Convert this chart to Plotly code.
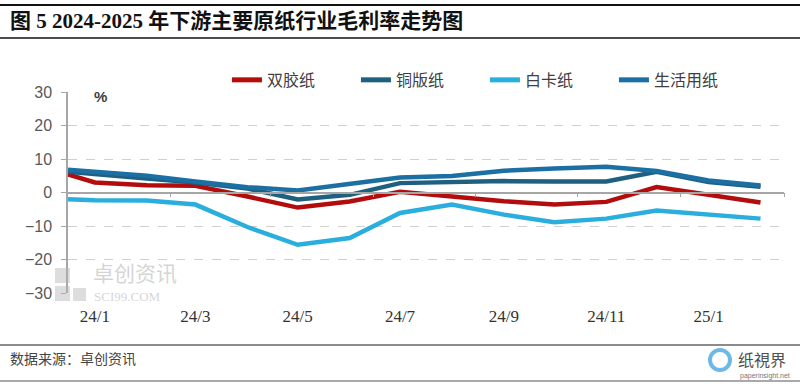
import plotly.graph_objects as go

dates = ["2023-12-16", "2024-01-01", "2024-02-01", "2024-03-01", "2024-04-01", "2024-05-01",
         "2024-06-01", "2024-07-01", "2024-08-01", "2024-09-01", "2024-10-01", "2024-11-01",
         "2024-12-01", "2025-01-01", "2025-02-01"]
shuangjiao = [5.4, 3.0, 2.2, 2.0, -1.2, -4.5, -2.7, 0.2, -1.2, -2.6, -3.6, -2.8, 1.6, -0.7, -3.0]
tongban = [6.2, 5.6, 4.2, 3.0, 1.2, -2.1, -0.7, 2.8, 3.1, 3.4, 3.3, 3.3, 6.2, 3.1, 1.7]
baika = [-2.0, -2.3, -2.4, -3.6, -10.3, -15.6, -13.6, -6.1, -3.6, -6.6, -8.9, -7.8, -5.4, -6.6, -7.8]
shenghuo = [6.8, 6.3, 5.0, 3.3, 1.6, 0.6, 2.6, 4.5, 4.9, 6.5, 7.2, 7.7, 6.4, 3.6, 2.1]

series_names = ["双胶纸", "铜版纸", "白卡纸", "生活用纸"]
series_values = [shuangjiao, tongban, baika, shenghuo]
series_colors = ["#B20C0C", "#1F5F80", "#2AAEDD", "#1B6FA3"]

tick_dates = ["2024-01-01", "2024-03-01", "2024-05-01", "2024-07-01", "2024-09-01", "2024-11-01", "2025-01-01"]
tick_labels = ["24/1", "24/3", "24/5", "24/7", "24/9", "24/11", "25/1"]
minor_ticks = ["2024-02-15", "2024-04-15", "2024-06-15", "2024-08-15", "2024-10-15", "2024-12-15", "2025-02-15"]
y_ticks = [-30, -20, -10, 0, 10, 20, 30]
x_range = ["2023-12-16", "2025-02-15"]

fig = go.Figure()
for name, vals, col in zip(series_names, series_values, series_colors):
    fig.add_trace(go.Scatter(x=dates, y=vals, name=name, mode="lines",
                             line=dict(color=col, width=4.5, shape="linear"),
                             hoverinfo="skip"))

fig.update_layout(
    width=800, height=386,
    margin=dict(l=68, r=16, t=92, b=93, autoexpand=False),
    paper_bgcolor="white", plot_bgcolor="white",
    showlegend=True,
    legend=dict(orientation="h", x=0.222, xanchor="left", y=1.06, yanchor="middle",
                font=dict(family="Noto Sans CJK SC", size=16, color="#404040"),
                entrywidth=84, entrywidthmode="pixels", traceorder="normal",
                bgcolor="rgba(0,0,0,0)", itemsizing="constant"),
    xaxis=dict(type="date", range=x_range, tickvals=tick_dates, ticktext=tick_labels,
               showgrid=False, zeroline=False, showline=False, ticks="",
               tickfont=dict(family="Liberation Serif", size=17, color="#333333"),
               ticklabelstandoff=11),
    xaxis2=dict(type="date", range=x_range, overlaying="x", anchor="free", position=0.5,
                showgrid=False, zeroline=False, showline=True, linecolor="#A6A6A6", linewidth=1.5,
                ticks="outside", ticklen=4, tickcolor="#A6A6A6", tickwidth=1,
                tickvals=minor_ticks, showticklabels=False),
    yaxis=dict(range=[-30, 30], tickvals=y_ticks, ticktext=[str(v).replace("-", "−") for v in y_ticks],
               showgrid=True, gridcolor="#D0D0D0", griddash="dash", gridwidth=1,
               zeroline=False, showline=True, linecolor="#A6A6A6", linewidth=1.5,
               ticks="outside", ticklen=5, tickcolor="#A6A6A6",
               tickfont=dict(family="Liberation Sans", size=16, color="#595959"),
               ticklabelstandoff=6),
)

# invisible anchor trace so the zero-position axis is drawn
fig.add_trace(go.Scatter(x=[dates[0]], y=[None], xaxis="x2", yaxis="y", showlegend=False,
                         hoverinfo="skip", mode="lines"))

annotations = [
    dict(text="<b>图 5 2024-2025 年下游主要原纸行业毛利率走势图</b>", xref="paper", yref="paper",
         x=(8 - 68)/716, y=1 + (92 - 21)/201, xanchor="left", yanchor="middle", showarrow=False,
         font=dict(family="Liberation Serif, Noto Sans CJK SC", size=21, color="#111111")),
    dict(text="<b>%</b>", xref="paper", yref="paper", x=(100 - 68)/716, y=1 - (96 - 92)/201,
         xanchor="center", yanchor="middle", showarrow=False,
         font=dict(family="Liberation Sans", size=15, color="#404040")),
    dict(text="数据来源：卓创资讯", xref="paper", yref="paper", x=(8 - 68)/716, y=-(358 - 293)/201,
         xanchor="left", yanchor="middle", showarrow=False,
         font=dict(family="Noto Sans CJK SC", size=14, color="#444444")),
    dict(text="卓创资讯", xref="paper", yref="paper", x=(91 - 68)/716, y=-(272 - 293)/201,
         xanchor="left", yanchor="middle", showarrow=False,
         font=dict(family="Noto Sans CJK SC", size=21, color="rgba(170,170,170,0.5)")),
    dict(text="SCI99.COM", xref="paper", yref="paper", x=(92 - 68)/716, y=-(296 - 293)/201,
         xanchor="left", yanchor="middle", showarrow=False,
         font=dict(family="Liberation Serif", size=13, color="rgba(170,170,170,0.5)")),
    dict(text="纸視界", xref="paper", yref="paper", x=(736 - 68)/716, y=-(359 - 293)/201,
         xanchor="left", yanchor="middle", showarrow=False,
         font=dict(family="Noto Sans CJK SC", size=16, color="#505050")),
    dict(text="paperinsight.net", xref="paper", yref="paper", x=(738 - 68)/716, y=-(376 - 293)/201,
         xanchor="left", yanchor="middle", showarrow=False,
         font=dict(family="Liberation Sans", size=7, color="#777777")),
]
fig.update_layout(annotations=annotations)

shapes = [
    dict(type="line", xref="paper", yref="paper", x0=-68/716, x1=1 + 16/716,
         y0=1 + (92 - 5)/201, y1=1 + (92 - 5)/201, line=dict(color="#111111", width=2)),
    dict(type="line", xref="paper", yref="paper", x0=-68/716, x1=1 + 16/716,
         y0=1 + (92 - 38)/201, y1=1 + (92 - 38)/201, line=dict(color="#111111", width=1.5)),
    dict(type="line", xref="paper", yref="paper", x0=-68/716, x1=1 + 16/716,
         y0=-(345 - 293)/201, y1=-(345 - 293)/201, line=dict(color="#8C8C8C", width=2)),
    dict(type="line", xref="paper", yref="paper", x0=-68/716, x1=1 + 16/716,
         y0=-(381 - 293)/201, y1=-(381 - 293)/201, line=dict(color="#8C8C8C", width=1.5)),
    # watermark block icon
    dict(type="rect", xref="paper", yref="paper", x0=(55 - 68)/716, x1=(70 - 68)/716,
         y0=-(283 - 293)/201, y1=-(268 - 293)/201, fillcolor="rgba(180,180,180,0.45)", line=dict(width=0)),
    dict(type="rect", xref="paper", yref="paper", x0=(55 - 68)/716, x1=(70 - 68)/716,
         y0=-(301 - 293)/201, y1=-(286 - 293)/201, fillcolor="rgba(180,180,180,0.45)", line=dict(width=0)),
    dict(type="rect", xref="paper", yref="paper", x0=(73 - 68)/716, x1=(86 - 68)/716,
         y0=-(301 - 293)/201, y1=-(288 - 293)/201, fillcolor="rgba(180,180,180,0.45)", line=dict(width=0)),
    # logo icon
    dict(type="circle", xref="paper", yref="paper", x0=(710 - 68)/716, x1=(730 - 68)/716,
         y0=-(370 - 293)/201, y1=-(350 - 293)/201, line=dict(color="#6DB8E6", width=4)),
]
fig.update_layout(shapes=shapes)

fig.write_html("out.html", config={"displayModeBar": False},
               post_script="document.body.style.margin='0';document.body.style.overflow='hidden';")
